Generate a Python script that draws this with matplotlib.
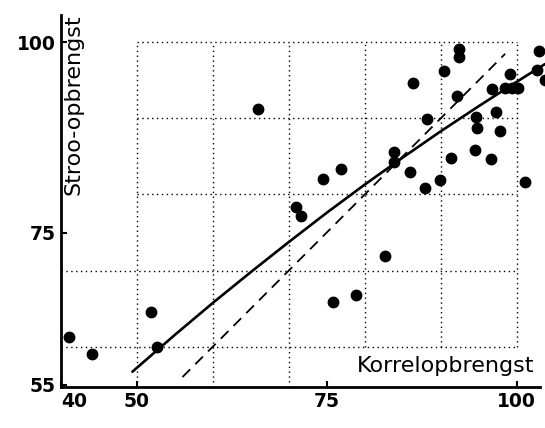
import matplotlib
matplotlib.use('Agg')
import matplotlib.pyplot as plt

# Observations: grain yield (Korrelopbrengst) vs straw yield (Stroo-opbrengst)
korrel = [41.0, 44.1, 51.8, 52.7, 65.9, 70.9, 71.6, 74.5, 76.9, 75.8,
          78.8, 82.7, 83.8, 83.8, 85.9, 86.4, 88.2, 88.0, 89.9, 90.5,
          91.3, 92.1, 92.4, 92.4, 94.6, 94.8, 94.5, 96.6, 96.8, 97.3,
          97.8, 98.5, 99.4, 100.2, 99.1, 101.1, 102.9, 102.7, 103.8]
stroo = [61.2, 59.0, 64.6, 60.0, 91.2, 78.4, 77.2, 82.0, 83.4, 65.9,
         66.8, 71.9, 85.6, 84.3, 83.0, 94.6, 89.9, 80.9, 81.9, 96.2,
         84.8, 93.0, 99.1, 98.1, 90.2, 88.7, 85.8, 84.6, 93.9, 90.9,
         88.4, 94.0, 94.0, 94.0, 95.9, 81.7, 98.9, 96.4, 95.1]

# fitted curve
fit_x = [49.4, 55, 60, 65, 70, 75, 80, 85, 90, 95, 100, 103.75]
fit_y = [56.7, 61.55, 65.75, 69.8, 73.75, 77.6, 81.3, 84.85, 88.3, 91.6, 94.8, 97.15]

# 1:1 line
diag = [56.0, 98.5]

xticks = [40, 50, 75, 100]
yticks = [55, 75, 100]
grid_full = [50, 60, 70]
grid_short = [80, 90, 100]

fig = plt.figure(figsize=(5.45, 4.28), dpi=100)
ax = fig.add_axes([0.112, 0.096, 0.879, 0.869])
ax.set_xlim(40.0, 103.1)
ax.set_ylim(54.7, 103.6)

dots = dict(color='black', linewidth=1.0, linestyle=(0, (1, 2.5)))
# vertical grid lines
ax.vlines(grid_full, 54.7, 100, **dots)
ax.vlines(grid_short, 60, 100, **dots)
# horizontal grid lines
ax.hlines([100, 90, 80], 50, 100, **dots)
ax.hlines([70, 60], 40, 100, **dots)

ax.plot(fit_x, fit_y, color='black', linewidth=1.9, solid_capstyle='round',
        clip_on=False)
ax.plot(diag, diag, color='black', linewidth=1.3, dashes=(6, 4))
ax.plot(korrel, stroo, 'o', color='black', markersize=7.5, clip_on=False)

for s in ['top', 'right']:
    ax.spines[s].set_visible(False)
for s in ['left', 'bottom']:
    ax.spines[s].set_linewidth(2.0)

ax.set_xticks(xticks)
ax.set_yticks(yticks)
ax.set_xticklabels([str(t) for t in xticks], fontsize=13.5, fontweight='bold')
ax.set_yticklabels([str(t) for t in yticks], fontsize=13.5, fontweight='bold')
ax.tick_params(direction='in', length=4, width=1.5, pad=4)
ax.get_xticklabels()[0].set_horizontalalignment('left')

ax.text(41.6, 91.8, 'Stroo-opbrengst', rotation=90, ha='center', va='center',
        fontsize=16)
ax.text(102.4, 57.4, 'Korrelopbrengst', ha='right', va='center', fontsize=16)

fig.savefig('out.png', dpi=100)
